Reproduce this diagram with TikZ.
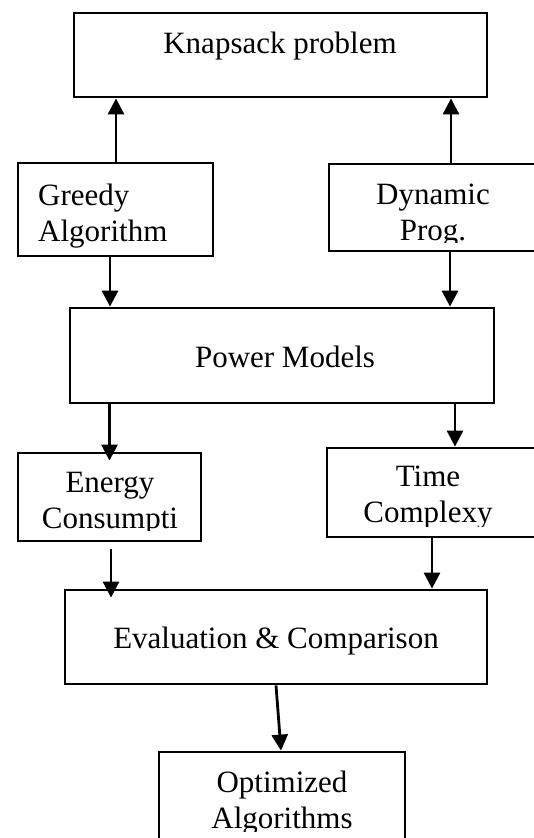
\documentclass[tikz,border=0pt]{standalone}
\usepackage{fontspec}
\setmainfont{Liberation Serif}
\usetikzlibrary{arrows.meta}
\begin{document}
\begin{tikzpicture}[x=1pt,y=-1pt,
  box/.style={draw,line width=2.8pt,inner sep=0pt},
  lbl/.style={font=\fontsize{31}{36}\selectfont,inner sep=0pt,align=center},
  arr/.style={line width=2.8pt,-{Triangle[width=16pt,length=16pt]}}]
  \useasboundingbox (0,0) rectangle (534,838);
  \clip (0,0) rectangle (534,838);
  % boxes
  \node[box,minimum width=413pt,minimum height=84pt] (kp) at (280.5,55) {};
  \node[box,minimum width=195pt,minimum height=93pt] (gr) at (115.5,209.5) {};
  \node[box,minimum width=216pt,minimum height=87pt] (dp) at (437,207.5) {};
  \node[box,minimum width=424pt,minimum height=95pt] (pm) at (282,355.5) {};
  \node[box,minimum width=183pt,minimum height=88pt] (en) at (109.5,497) {};
  \node[box,minimum width=218pt,minimum height=89pt] (tc) at (436,492.5) {};
  \node[box,minimum width=422pt,minimum height=94pt] (ev) at (276,637) {};
  \node[box,minimum width=246pt,minimum height=98pt] (oa) at (282,801) {};
  % labels
  \node[lbl,anchor=north] (kpt) at (280,32) {Knapsack problem};
  \node[lbl,anchor=north west,align=left] (grt) at (38,184) {Greedy\\Algorithm};
  \begin{scope}
    \clip (dp.north west) rectangle ([yshift=10pt]dp.south east);
    \node[lbl,anchor=north] (dpt) at (433,184) {Dynamic\\Prog.};
  \end{scope}
  \node[lbl,anchor=north] (pmt) at (285,346) {Power Models};
  \begin{scope}
    \clip (en.north west) rectangle ([yshift=12pt]en.south east);
    \node[lbl,anchor=north] (ent) at (110,472) {Energy\\Consumpti};
  \end{scope}
  \begin{scope}
    \clip (tc.north west) rectangle ([yshift=12pt]tc.south east);
    \node[lbl,anchor=north] (tct) at (428,466) {Time\\Complexy};
  \end{scope}
  \node[lbl,anchor=north] (evt) at (276,627) {Evaluation \& Comparison};
  \begin{scope}
    \clip (oa.north west) rectangle ([yshift=20pt]oa.south east);
    \node[lbl,anchor=north] (oat) at (282,771) {Optimized\\Algorithms};
  \end{scope}
  % connectors
  \draw[arr] ([xshift=0.5pt]gr.north) -- ([xshift=0.5pt]gr.north |- kp.south);
  \draw[arr] ([xshift=14pt]dp.north) -- ([xshift=14pt]dp.north |- kp.south);
  \draw[arr] ([xshift=-5.5pt]gr.south) -- ([xshift=-5.5pt]gr.south |- pm.north);
  \draw[arr] ([xshift=13pt]dp.south) -- ([xshift=13pt]dp.south |- pm.north);
  \draw[arr,shorten >=-9pt] (en.north |- pm.south) -- (en.north);
  \draw[arr] ([xshift=19pt]tc.north |- pm.south) -- ([xshift=19pt]tc.north);
  \draw[arr,shorten >=-9pt] ([xshift=1.5pt,yshift=-7pt]en.south) -- ([xshift=1.5pt]en.south |- ev.north);
  \draw[arr] ([xshift=-4pt]tc.south) -- ([xshift=-4pt]tc.south |- ev.north);
  \draw[arr] (ev.south) -- ([xshift=-1pt]oa.north);
\end{tikzpicture}
\end{document}
